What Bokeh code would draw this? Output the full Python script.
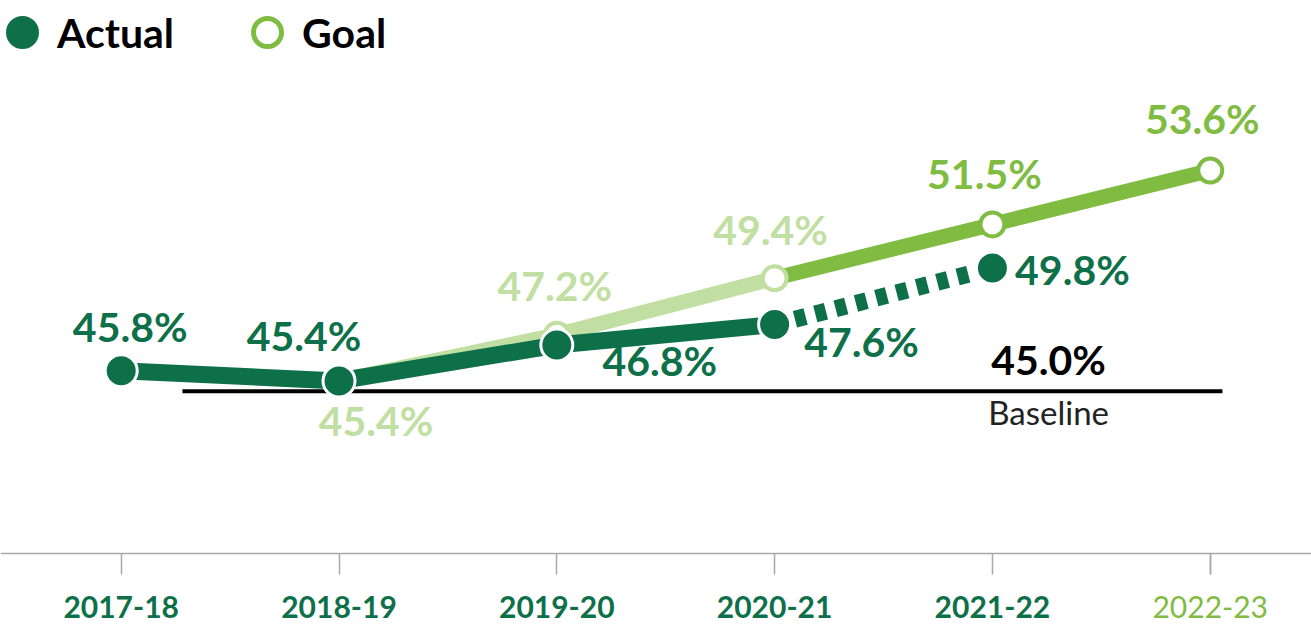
from bokeh.plotting import figure
from bokeh.models import (Range1d, FixedTicker, LinearAxis, Legend, LegendItem,
                          ColumnDataSource)
from bokeh.core.properties import value
from bokeh.embed import file_html
from bokeh.resources import INLINE

# ---------------- data ----------------
years = ["2017-18", "2018-19", "2019-20", "2020-21", "2021-22", "2022-23"]
actual = [45.8, 45.4, 46.8, 47.6, 49.8]            # 2017-18 .. 2021-22
goal = [None, 45.4, 47.2, 49.4, 51.5, 53.6]        # 2018-19 .. 2022-23
baseline = 45.0
last_final_idx = 3                                  # 2020-21: last final year

# ---------------- styles ----------------
DARK = "#0e7049"
BRIGHT = "#7fbc41"
PALE = "#c1dfa2"
AXIS_GRAY = "#a8a8a8"
FONT = "Lato"
VAL_SIZE = "41px"

# label offsets (screen px) for each value label
actual_label_dx = [9, -35, 103, 87, 80]
actual_label_dy = [-44, -45, 15, 17, 1]
goal_label_dx = [37, -2, -4, -8, -8]
goal_label_dy = [40, -49, -49, -51, -52]

# layout constants (data units)
X_START, X_END = -0.5542, 5.4650
Y_START, Y_END = 35.752, 60.226
AXIS_Y = 38.663
BASE_X0, BASE_X1 = 0.281, 5.056
BASE_LABEL_X = 4.258

xs = list(range(len(years)))
NAN = float("nan")

p = figure(width=1311, height=628, x_range=Range1d(X_START, X_END),
           y_range=Range1d(Y_START, Y_END), output_backend="svg",
           toolbar_location=None, min_border=0,
           x_axis_type=None, y_axis_type=None)
p.outline_line_color = None
p.background_fill_color = "white"

# x axis (in-frame, fixed location)
overrides = {i: years[i] for i in range(len(years) - 1)}
overrides[len(years) - 1] = ""
ax = LinearAxis(ticker=FixedTicker(ticks=xs), fixed_location=AXIS_Y,
                major_label_overrides=overrides)
ax.axis_line_color = AXIS_GRAY
ax.axis_line_width = 1.5
ax.major_tick_line_color = AXIS_GRAY
ax.major_tick_line_width = 1.5
ax.major_tick_in = 0
ax.major_tick_out = 21
ax.minor_tick_line_color = None
ax.major_label_standoff = 21
ax.major_label_text_font = FONT
ax.major_label_text_font_style = "bold"
ax.major_label_text_font_size = "30px"
ax.major_label_text_color = DARK
p.add_layout(ax, "below")

ax2 = LinearAxis(ticker=FixedTicker(ticks=[xs[-1]]), fixed_location=AXIS_Y,
                 major_label_overrides={xs[-1]: years[-1]})
ax2.axis_line_color = None
ax2.major_tick_line_color = AXIS_GRAY
ax2.major_tick_line_width = 1.5
ax2.major_tick_in = 0
ax2.major_tick_out = 21
ax2.minor_tick_line_color = None
ax2.major_label_standoff = 21
ax2.major_label_text_font = FONT
ax2.major_label_text_font_style = "normal"
ax2.major_label_text_font_size = "30px"
ax2.major_label_text_color = BRIGHT
p.add_layout(ax2, "below")

# baseline
p.segment(x0=BASE_X0, y0=baseline, x1=BASE_X1, y1=baseline,
          line_color="black", line_width=4)

# goal lines
gx = [x for x, g in zip(xs, goal) if g is not None]
gy = [g for g in goal if g is not None]
past_g = [(x, y) for x, y in zip(gx, gy) if x <= last_final_idx]
fut_g = [(x, y) for x, y in zip(gx, gy) if x >= last_final_idx]
p.line([a for a, _ in past_g], [b for _, b in past_g], line_color=PALE,
       line_width=15, line_join="round")
p.line([a for a, _ in fut_g], [b for _, b in fut_g], line_color=BRIGHT,
       line_width=15, line_join="round")

# actual lines
ax_idx = xs[:len(actual)]
p.line(ax_idx[:last_final_idx + 1], actual[:last_final_idx + 1],
       line_color=DARK, line_width=17, line_join="round")
p.line(ax_idx[last_final_idx:], actual[last_final_idx:], line_color=DARK,
       line_width=17, line_dash="11 10", line_cap="butt")

# goal markers
goal_colors = [PALE if x <= last_final_idx else BRIGHT for x in gx]
gsrc = ColumnDataSource(dict(x=gx, y=gy, c=goal_colors,
                             label=[f"{v:.1f}%" for v in gy],
                             dx=goal_label_dx, dy=goal_label_dy))
p.scatter("x", "y", source=gsrc, size=24, fill_color="white",
          line_color="c", line_width=4)

# actual markers
asrc = ColumnDataSource(dict(x=ax_idx, y=actual,
                             label=[f"{v:.1f}%" for v in actual],
                             dx=actual_label_dx, dy=actual_label_dy))
p.scatter("x", "y", source=asrc, size=32, fill_color=DARK,
          line_color="white", line_width=3)

# value labels
p.text("x", "y", text="label", source=gsrc, x_offset="dx", y_offset="dy",
       text_color="c", text_font=value(FONT), text_font_style="bold",
       text_font_size=VAL_SIZE, text_align="center", text_baseline="middle")
p.text("x", "y", text="label", source=asrc, x_offset="dx", y_offset="dy",
       text_color=DARK, text_font=value(FONT), text_font_style="bold",
       text_font_size=VAL_SIZE, text_align="center", text_baseline="middle")

# baseline labels
p.text(x=[BASE_LABEL_X], y=[baseline], text=[f"{baseline:.1f}%"],
       y_offset=-32, text_color="black", text_font=value(FONT),
       text_font_style="bold", text_font_size=VAL_SIZE, text_align="center",
       text_baseline="middle")
p.text(x=[BASE_LABEL_X], y=[baseline], text=["Baseline"],
       y_offset=21, text_color="#222222", text_font=value(FONT),
       text_font_style="normal", text_font_size="33px", text_align="center",
       text_baseline="middle")

# legend (renderers with a single NaN point: drawn only in the legend)
leg_a = p.scatter(x=[NAN], y=[NAN], size=28, fill_color=DARK, line_color=DARK,
                  line_width=5)
leg_g = p.scatter(x=[NAN], y=[NAN], size=28, fill_color="white",
                  line_color=BRIGHT, line_width=5)
legend = Legend(items=[LegendItem(label="Actual", renderers=[leg_a]),
                       LegendItem(label="Goal", renderers=[leg_g])],
                orientation="horizontal", location=(-13, 561),
                glyph_width=70, glyph_height=70, label_standoff=-1,
                spacing=58, padding=0, margin=0,
                border_line_color=None, background_fill_alpha=0,
                label_text_font=FONT, label_text_font_style="bold",
                label_text_font_size="41px", label_text_color="black")
p.add_layout(legend)

open("out.html", "w").write(file_html(p, INLINE))
